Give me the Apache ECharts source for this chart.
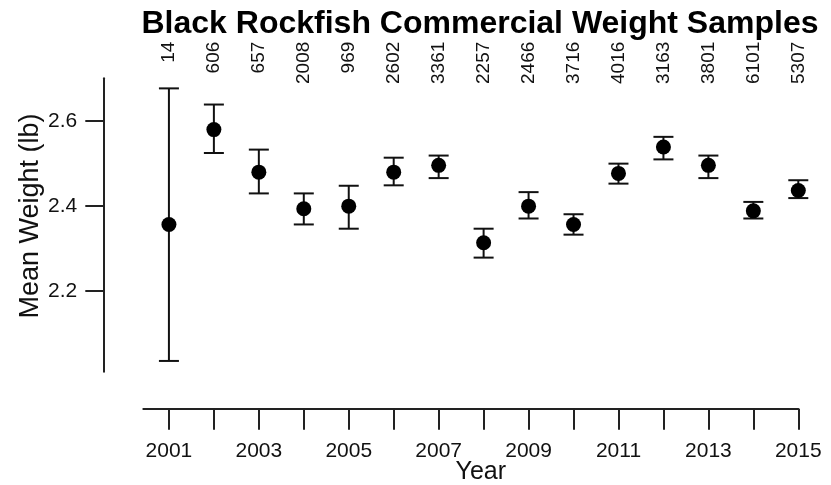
<!DOCTYPE html>
<html>
<head>
<meta charset="utf-8">
<script src="https://cdn.jsdelivr.net/npm/echarts@6/dist/echarts.min.js"></script>
<style>
html,body{margin:0;padding:0;background:#fff;}
#chart{width:831px;height:485px;}
</style>
</head>
<body>
<div id="chart"></div>
<script>
// ---- data ----
const years = [2001, 2002, 2003, 2004, 2005, 2006, 2007, 2008, 2009, 2010, 2011, 2012, 2013, 2014, 2015];
const sampleN = [14, 606, 657, 2008, 969, 2602, 3361, 2257, 2466, 3716, 4016, 3163, 3801, 6101, 5307];
const meanWeight = [2.357, 2.580, 2.480, 2.394, 2.400, 2.480, 2.496, 2.314, 2.400, 2.357, 2.477, 2.539, 2.496, 2.389, 2.437];
const upperCI = [2.677, 2.639, 2.533, 2.430, 2.448, 2.514, 2.519, 2.347, 2.433, 2.381, 2.500, 2.563, 2.519, 2.410, 2.461];
const lowerCI = [2.036, 2.525, 2.430, 2.357, 2.347, 2.449, 2.466, 2.279, 2.371, 2.333, 2.453, 2.510, 2.466, 2.371, 2.419];
const xLabelYears = [2001, 2003, 2005, 2007, 2009, 2011, 2013, 2015];
const yTicks = [2.2, 2.4, 2.6];

const FONT = "'Liberation Sans', Arial, sans-serif";
const INK = '#111';

const chart = echarts.init(document.getElementById('chart'), null, {renderer: 'canvas'});

const nByYear = {};
years.forEach((y, i) => { nByYear[y] = sampleN[i]; });

const option = {
  animation: false,
  backgroundColor: '#fff',
  title: {
    text: 'Black Rockfish Commercial Weight Samples',
    left: 136.5,
    top: 3,
    textStyle: {fontFamily: FONT, fontWeight: 'bold', fontSize: 32, color: '#000'}
  },
  grid: {left: 143.3, right: 32.7, top: 78.3, bottom: 113.3, containLabel: false, outerBoundsMode: 'none'},
  xAxis: [
    {
      type: 'value',
      position: 'bottom',
      min: 2000.43,
      max: 2015,
      offset: 37,
      axisLine: {show: true, onZero: false, lineStyle: {color: '#222', width: 2}},
      axisTick: {show: true, length: 21, customValues: years, lineStyle: {color: '#222', width: 2}},
      axisLabel: {
        customValues: xLabelYears, margin: 32,
        fontFamily: FONT, fontSize: 21, color: '#111',
        formatter: v => String(v)
      },
      splitLine: {show: false},
      name: 'Year',
      nameLocation: 'middle',
      nameGap: 51,
      nameMoveOverlap: false,
      nameTextStyle: {fontFamily: FONT, fontSize: 25, color: '#111', padding: [0, 0, 0, 20]}
    },
    {
      type: 'value',
      position: 'top',
      min: 2000.43,
      max: 2015,
      offset: 36.6,
      axisLine: {show: false},
      axisTick: {show: false},
      axisLabel: {
        customValues: years, inside: true, rotate: -90, margin: 0,
        fontFamily: FONT, fontSize: 19, color: '#111',
        formatter: v => String(nByYear[Math.round(v)])
      },
      splitLine: {show: false}
    }
  ],
  yAxis: {
    type: 'value',
    min: 2.0107,
    max: 2.7007,
    offset: 40,
    axisLine: {show: true, onZero: false, lineStyle: {color: '#222', width: 2}},
    axisTick: {show: true, length: 18, customValues: yTicks, lineStyle: {color: '#222', width: 2}},
    axisLabel: {
      customValues: yTicks, margin: 26,
      fontFamily: FONT, fontSize: 21, color: '#111',
      formatter: v => v.toFixed(1)
    },
    splitLine: {show: false},
    name: 'Mean Weight (lb)',
    nameLocation: 'middle',
    nameRotate: 90,
    nameGap: 59,
    nameMoveOverlap: false,
    nameTextStyle: {fontFamily: FONT, fontSize: 27, color: '#111', padding: [0, 0, 0, 18]}
  },
  series: [
    {
      type: 'custom',
      xAxisIndex: 0,
      yAxisIndex: 0,
      data: years.map((y, i) => [y, lowerCI[i], upperCI[i]]),
      renderItem: function (params, api) {
        const x = api.value(0);
        const pHi = api.coord([x, api.value(2)]);
        const pLo = api.coord([x, api.value(1)]);
        const hw = 10;
        const st = {stroke: INK, lineWidth: 2};
        return {
          type: 'group',
          children: [
            {type: 'line', shape: {x1: pHi[0], y1: pHi[1], x2: pLo[0], y2: pLo[1]}, style: st},
            {type: 'line', shape: {x1: pHi[0] - hw, y1: pHi[1], x2: pHi[0] + hw, y2: pHi[1]}, style: st},
            {type: 'line', shape: {x1: pLo[0] - hw, y1: pLo[1], x2: pLo[0] + hw, y2: pLo[1]}, style: st}
          ]
        };
      },
      z: 2
    },
    {
      type: 'scatter',
      xAxisIndex: 0,
      yAxisIndex: 0,
      data: years.map((y, i) => [y, meanWeight[i]]),
      symbol: 'circle',
      symbolSize: 15,
      itemStyle: {color: '#000', opacity: 1},
      z: 3
    }
  ]
};

chart.setOption(option);
</script>
</body>
</html>
